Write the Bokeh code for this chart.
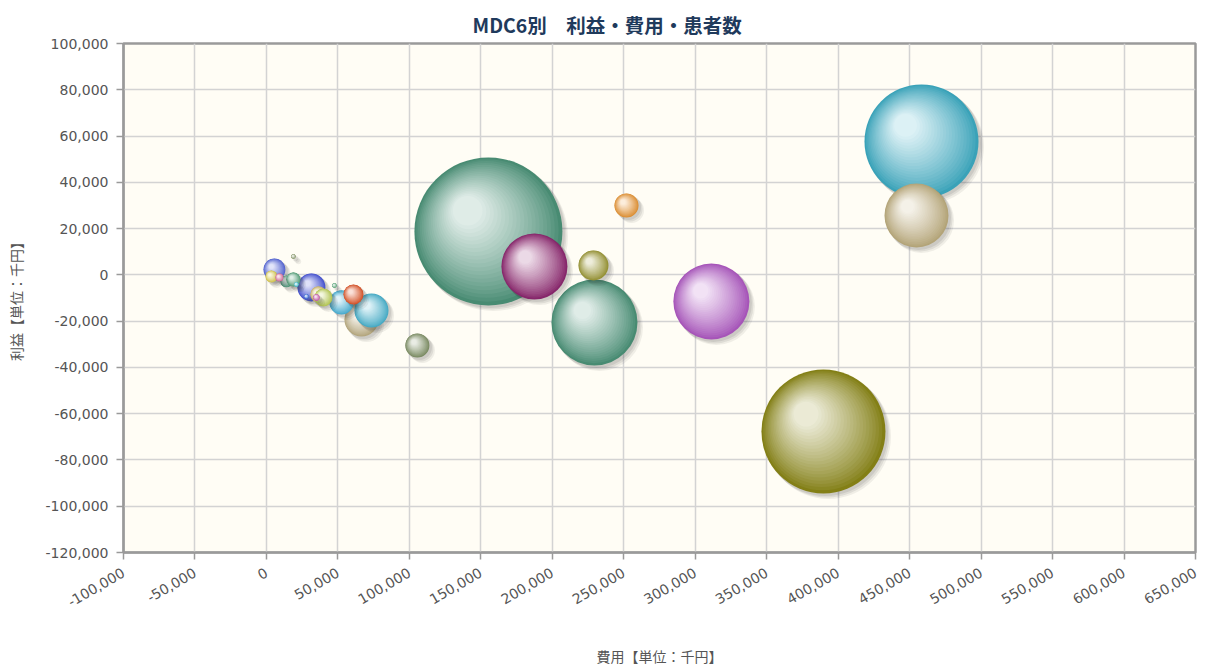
import math
from bokeh.plotting import figure
from bokeh.models import FixedTicker, NumeralTickFormatter, ColumnDataSource
from bokeh.embed import file_html
from bokeh.resources import INLINE

# ---- data ----
categories = ["分類01", "分類02", "分類03", "分類04", "分類05", "分類06", "分類07",
              "分類08", "分類09", "分類10", "分類11", "分類12", "分類13", "分類14",
              "分類15", "分類16", "分類17", "分類18", "分類19", "分類20", "分類21",
              "分類22", "分類23", "分類24", "分類25", "分類26", "分類27"]
cost = [155300, 458300, 454800, 389700, 311300, 229500, 187500, 228800, 251900,
        105600, 66500, 73500, 52500, 60900, 31500, 36400, 39900, 35000, 28000,
        5600, 3500, 14000, 18900, 9100, 21000, 18900, 47600]
profit = [18760, 57660, 25670, -67690, -11500, -20570, 3630, 4060, 30000,
          -30500, -19300, -15400, -11900, -8470, -5450, -8470, -9770, -9770, -9340,
          2330, -700, -2850, -2000, -1100, -4150, 7950, -4600]
patients = [1095, 650, 205, 769, 289, 370, 218, 45, 29,
            29, 58, 58, 29, 20, 39, 13, 16, 2, 1,
            24, 7, 7, 10, 3, 1, 1, 1]
palette = ["#4E977C", "#3FB0C8", "#C3B282", "#8E8A18", "#B45CC8", "#4E977C", "#922A74",
           "#A09C38", "#EE9A38", "#84966A", "#C3B488", "#4CB8D4", "#4CB8DE", "#E4582A",
           "#4A58DE", "#D8C070", "#C0D458", "#D060B0", "#3A70E0", "#5A6CE0", "#E0D050",
           "#4E9A7C", "#5AA880", "#E070A0", "#40C0D0", "#90A070", "#60B080"]

title_text = "MDC6別　利益・費用・患者数"
x_label = "費用【単位：千円】"
y_label = "利益【単位：千円】"
x_ticks = list(range(-100000, 650001, 50000))
y_ticks = list(range(-120000, 100001, 20000))

X0, X1 = -100000, 650000
Y0, Y1 = -120000, 100000
FW, FH = 1072, 509
RMAX = 74.0

sx = FW / (X1 - X0)
sy = FH / (Y1 - Y0)


def hex2rgb(h):
    h = h.lstrip("#")
    return tuple(int(h[i:i + 2], 16) for i in (0, 2, 4))


def rgb2hex(c):
    return "#%02x%02x%02x" % tuple(max(0, min(255, int(round(v)))) for v in c)


def mix(a, b, f):
    return tuple(a[i] + (b[i] - a[i]) * f for i in range(3))


nmax = max(patients)
xs, ys, sizes, fills, alphas = [], [], [], [], []
NL = 22
for i in range(len(cost)):
    r = RMAX * math.sqrt(patients[i] / nmax)
    cx, cy = cost[i], profit[i]
    base = hex2rgb(palette[i])
    dark = mix(base, (0, 0, 0), 0.08)
    hl = mix(base, (255, 255, 255), 0.82)
    # shadow
    for off, a in ((5, 0.07), (3.5, 0.09), (2, 0.10)):
        xs.append(cx + off / sx)
        ys.append(cy - off / sy)
        sizes.append(2 * r + 1)
        fills.append("#303030")
        alphas.append(a)
    # gradient layers
    for k in range(NL):
        t = k / (NL - 1)
        rk = r * (1 - 0.8 * t)
        ox = -0.28 * r * t
        oy = 0.28 * r * t
        f = t ** 0.85
        col = mix(dark, hl, f)
        xs.append(cx + ox / sx)
        ys.append(cy + oy / sy)
        sizes.append(2 * rk)
        fills.append(rgb2hex(col))
        alphas.append(1.0)

src = ColumnDataSource(dict(x=xs, y=ys, size=sizes, fill=fills, alpha=alphas))

p = figure(frame_width=FW, frame_height=FH, x_range=(X0, X1), y_range=(Y0, Y1),
           output_backend="svg", toolbar_location=None,
           min_border_left=123, min_border_right=8, min_border_top=43, min_border_bottom=100,
           title=title_text)

p.scatter("x", "y", size="size", source=src, fill_color="fill", fill_alpha="alpha",
          line_color=None)

p.title.align = "left"
p.title.offset = 349
p.title.standoff = 10
p.title.text_font = "Noto Sans CJK JP"
p.title.text_font_size = "19.5px"
p.title.text_font_style = "bold"
p.title.text_color = "#1F3A5C"

p.background_fill_color = "#FFFDF5"
p.border_fill_color = "white"
p.outline_line_color = "#9A9A9A"
p.outline_line_width = 2.5

p.xaxis.ticker = FixedTicker(ticks=x_ticks)
p.yaxis.ticker = FixedTicker(ticks=y_ticks)
p.xaxis.formatter = NumeralTickFormatter(format="0,0")
p.yaxis.formatter = NumeralTickFormatter(format="0,0")
p.xaxis.major_label_orientation = math.pi / 6

for ax in (p.xaxis, p.yaxis):
    ax.axis_line_color = "#9A9A9A"
    ax.axis_line_width = 2
    ax.major_tick_line_color = "#9A9A9A"
    ax.major_tick_line_width = 1.5
    ax.major_tick_out = 7
    ax.major_tick_in = 0
    ax.minor_tick_line_color = None
    ax.major_label_text_font = "DejaVu Sans"
    ax.major_label_text_font_size = "14px"
    ax.major_label_text_color = "#555555"
    ax.axis_label_text_font = "Noto Sans CJK JP"
    ax.axis_label_text_font_size = "14px"
    ax.axis_label_text_font_style = "normal"
    ax.axis_label_text_color = "#555555"

p.xaxis.axis_label = x_label
p.yaxis.axis_label = y_label
p.xaxis.major_label_standoff = 12
p.xaxis.axis_label_standoff = 31
p.yaxis.axis_label_standoff = 17
p.yaxis.major_label_standoff = 8

p.grid.grid_line_color = "#D3D3D3"
p.grid.grid_line_width = 1.5

open("out.html", "w").write(file_html(p, INLINE))
